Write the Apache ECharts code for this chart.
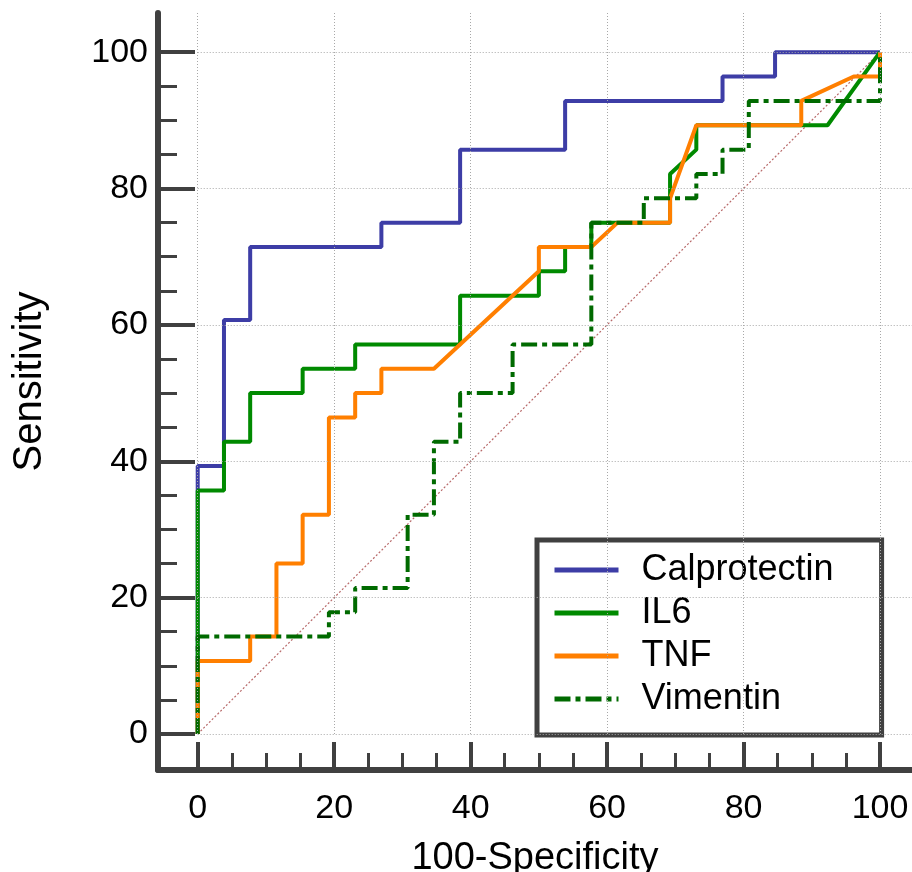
<!DOCTYPE html>
<html>
<head>
<meta charset="utf-8">
<script src="https://cdn.jsdelivr.net/npm/echarts@6/dist/echarts.min.js"></script>
<style>html,body{margin:0;padding:0;background:#fff}#chart{width:912px;height:872px}</style>
</head>
<body>
<div id="chart"></div>
<script>
// ---- data (100-Specificity, Sensitivity) ----
const seriesNames = ['Calprotectin', 'IL6', 'TNF', 'Vimentin'];
const calprotectin = [[0,0],[0,39.29],[3.85,39.29],[3.85,60.71],[7.69,60.71],[7.69,71.43],[26.92,71.43],[26.92,75],[38.46,75],[38.46,85.71],[53.85,85.71],[53.85,92.86],[76.92,92.86],[76.92,96.43],[84.62,96.43],[84.62,100],[100,100]];
const il6 = [[0,0],[0,35.71],[3.85,35.71],[3.85,42.86],[7.69,42.86],[7.69,50],[15.38,50],[15.38,53.57],[23.08,53.57],[23.08,57.14],[38.46,57.14],[38.46,64.29],[50,64.29],[50,67.86],[53.85,67.86],[53.85,71.43],[57.69,71.43],[57.69,75],[69.23,75],[69.23,82.14],[73.08,85.71],[73.08,89.29],[92.31,89.29],[100,100]];
const tnf = [[0,0],[0,10.71],[7.69,10.71],[7.69,14.29],[11.54,14.29],[11.54,25],[15.38,25],[15.38,32.14],[19.23,32.14],[19.23,46.43],[23.08,46.43],[23.08,50],[26.92,50],[26.92,53.57],[34.62,53.57],[50,67.86],[50,71.43],[57.69,71.43],[61.54,75],[69.23,75],[69.23,78.57],[73.08,89.29],[88.46,89.29],[88.46,92.86],[96.15,96.43],[100,96.43],[100,100]];
const vimentin = [[0,0],[0,14.29],[19.23,14.29],[19.23,17.86],[23.08,17.86],[23.08,21.43],[30.77,21.43],[30.77,32.14],[34.62,32.14],[34.62,42.86],[38.46,42.86],[38.46,50],[46.15,50],[46.15,57.14],[57.69,57.14],[57.69,75],[65.38,75],[65.38,78.57],[73.08,78.57],[73.08,82.14],[76.92,82.14],[76.92,85.71],[80.77,85.71],[80.77,92.86],[100,92.86],[100,100]];
const diagonal = [[0,0],[100,100]];
const majorTicks = [0, 20, 40, 60, 80, 100];
const minorTicks = [5, 10, 15, 25, 30, 35, 45, 50, 55, 65, 70, 75, 85, 90, 95];
const xName = '100-Specificity';
const yName = 'Sensitivity';

// ---- layout ----
const X_MIN = -5.82, X_MAX = 104.69, Y_MIN = -5.28, Y_MAX = 105.75;
const FONT = "'Liberation Sans', Arial, sans-serif";
const AXIS_COLOR = '#404040';

const gridLines = [];
majorTicks.forEach(v => {
  gridLines.push([{coord: [v, 0]}, {coord: [v, Y_MAX]}]);
  gridLines.push([{coord: [0, v]}, {coord: [X_MAX, v]}]);
});

function mainAxis(isX) {
  return {
    type: 'value',
    min: isX ? X_MIN : Y_MIN,
    max: isX ? X_MAX : Y_MAX,
    position: isX ? 'bottom' : 'left',
    axisLine: {show: true, onZero: false, lineStyle: {color: AXIS_COLOR, width: 6}},
    axisTick: {show: true, inside: true, length: isX ? 28 : 37, customValues: majorTicks,
               lineStyle: {color: AXIS_COLOR, width: 4}},
    axisLabel: {show: true, customValues: majorTicks, margin: isX ? 22 : 10,
                fontFamily: FONT, fontSize: 34, color: '#000'},
    splitLine: {show: false},
    name: isX ? xName : yName,
    nameLocation: 'middle',
    nameGap: isX ? 70 : 108,
    nameTextStyle: isX
      ? {fontFamily: FONT, fontSize: 38, color: '#000'}
      : {fontFamily: FONT, fontSize: 40, color: '#000', padding: [0, 0, 0, 20]}
  };
}
function minorAxis(isX) {
  return {
    type: 'value',
    min: isX ? X_MIN : Y_MIN,
    max: isX ? X_MAX : Y_MAX,
    position: isX ? 'bottom' : 'left',
    axisLine: {show: false, onZero: false},
    axisTick: {show: true, inside: true, length: isX ? 17 : 19, customValues: minorTicks,
               lineStyle: {color: AXIS_COLOR, width: 3}},
    axisLabel: {show: false},
    splitLine: {show: false}
  };
}

const lineSeries = (name, data, color, type) => ({
  name, type: 'line', data, symbol: 'none', animation: false,
  lineStyle: {color, width: 4, type: type || 'solid'},
  itemStyle: {color},
  emphasis: {disabled: true}
});

const option = {
  animation: false,
  grid: {left: 158, right: 0, top: 13, bottom: 102, containLabel: false, outerBoundsMode: 'none'},
  xAxis: [mainAxis(true), minorAxis(true)],
  yAxis: [mainAxis(false), minorAxis(false)],
  legend: {
    data: seriesNames,
    orient: 'vertical',
    left: 537, top: 540,
    padding: [12, 48, 18, 15],
    itemWidth: 64, itemHeight: 14, itemGap: 7,
    borderColor: AXIS_COLOR, borderWidth: 5, backgroundColor: '#fff',
    itemStyle: {opacity: 0},
    lineStyle: {width: 5},
    textStyle: {fontFamily: FONT, fontSize: 36, color: '#000', lineHeight: 36, padding: [0, 0, 0, 18]},
    selectedMode: false
  },
  series: [
    {
      name: 'ref', type: 'line', data: diagonal, symbol: 'none', animation: false, silent: true,
      lineStyle: {color: '#b86a6a', width: 1.2, type: [2, 2]},
      markLine: {
        silent: true, symbol: ['none', 'none'], animation: false,
        label: {show: false},
        lineStyle: {type: [1, 2], color: '#a8a8a8', width: 1},
        emphasis: {disabled: true},
        data: gridLines
      }
    },
    lineSeries('Calprotectin', calprotectin, '#3d3da6'),
    lineSeries('IL6', il6, '#008a00'),
    lineSeries('TNF', tnf, '#ff7f00'),
    lineSeries('Vimentin', vimentin, '#006a00', [16, 5, 5, 5])
  ]
};

const chart = echarts.init(document.getElementById('chart'), null, {renderer: 'canvas'});
chart.setOption(option);
</script>
</body>
</html>
